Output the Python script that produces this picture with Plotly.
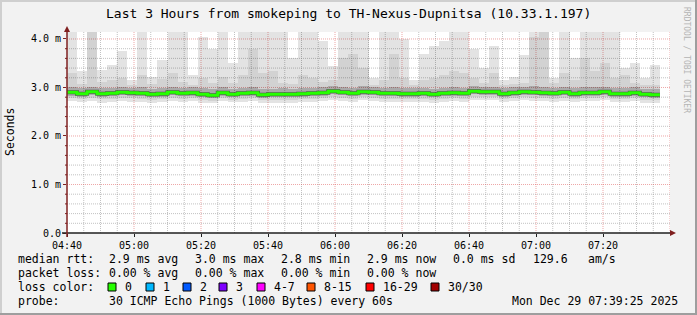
import plotly.graph_objects as go
from datetime import datetime, timedelta

# ---------------- data ----------------
title_text = "Last 3 Hours from smokeping to TH-Nexus-Dupnitsa (10.33.1.197)"
graph_start = datetime(2025, 12, 29, 4, 40)
graph_end = datetime(2025, 12, 29, 7, 40)
step_minutes = 3
n_cols = 59
col_starts = [graph_start + timedelta(minutes=step_minutes * k) for k in range(n_cols)]

median = [2.90, 2.87, 2.91, 2.87, 2.88, 2.90, 2.89, 2.88, 2.86, 2.87,
          2.90, 2.88, 2.89, 2.86, 2.84, 2.89, 2.86, 2.88, 2.89, 2.85,
          2.86, 2.86, 2.86, 2.87, 2.88, 2.89, 2.92, 2.90, 2.88, 2.91,
          2.90, 2.88, 2.88, 2.87, 2.87, 2.88, 2.86, 2.88, 2.89, 2.88,
          2.92, 2.91, 2.91, 2.87, 2.89, 2.91, 2.90, 2.89, 2.88, 2.90,
          2.87, 2.89, 2.89, 2.91, 2.87, 2.87, 2.89, 2.86, 2.85]

smoke_max = [4.14, 3.35, 4.14, 3.36, 3.46, 3.75, 3.15, 4.14, 3.22, 3.57,
             4.14, 4.14, 3.25, 4.05, 3.80, 4.14, 3.50, 4.14, 4.14, 4.14,
             4.14, 4.14, 3.60, 4.14, 4.14, 3.95, 3.45, 4.14, 4.14, 4.14,
             3.20, 4.14, 4.14, 4.00, 3.15, 3.70, 3.85, 3.95, 4.14, 4.14,
             3.80, 3.40, 3.85, 3.15, 3.22, 3.68, 4.14, 4.14, 3.20, 4.14,
             3.60, 4.14, 4.14, 4.14, 4.14, 3.40, 3.50, 3.20, 3.47]

smoke_hi2 = [3.30, 3.08, 4.14, 3.12, 3.15, 3.20, 3.05, 3.25, 3.08, 3.18,
             3.30, 3.12, 3.06, 3.20, 3.10, 3.22, 3.10, 3.25, 3.80, 3.30,
             3.35, 3.10, 3.08, 3.25, 3.20, 3.12, 3.15, 3.60, 3.70, 3.40,
             3.05, 3.15, 3.70, 3.20, 3.05, 3.15, 3.20, 3.25, 3.35, 3.30,
             3.20, 3.10, 3.30, 3.05, 3.08, 3.10, 4.05, 4.14, 3.10, 3.30,
             3.15, 3.60, 3.35, 3.50, 3.20, 3.25, 3.10, 3.05, 3.05]

smoke_hi1 = [3.00, 2.98, 3.02, 2.98, 2.99, 3.01, 2.99, 3.00, 2.97, 2.99,
             3.02, 2.99, 3.00, 2.98, 2.96, 3.00, 2.97, 2.99, 3.01, 2.97,
             2.97, 2.98, 2.97, 2.98, 2.99, 3.00, 3.03, 3.01, 2.99, 3.03,
             3.01, 2.99, 3.00, 2.98, 2.98, 2.99, 2.97, 2.99, 3.00, 2.99,
             3.03, 3.02, 3.02, 2.98, 3.00, 3.02, 3.03, 3.00, 2.99, 3.01,
             2.98, 3.00, 3.01, 3.02, 2.98, 2.98, 3.00, 2.97, 2.96]

smoke_lo1 = [2.83, 2.81, 2.84, 2.81, 2.82, 2.84, 2.83, 2.82, 2.80, 2.81,
             2.84, 2.82, 2.83, 2.80, 2.78, 2.83, 2.80, 2.82, 2.83, 2.79,
             2.80, 2.80, 2.80, 2.81, 2.82, 2.83, 2.86, 2.84, 2.82, 2.85,
             2.84, 2.82, 2.82, 2.81, 2.81, 2.82, 2.80, 2.82, 2.83, 2.82,
             2.86, 2.85, 2.85, 2.81, 2.83, 2.85, 2.84, 2.83, 2.82, 2.84,
             2.81, 2.83, 2.83, 2.85, 2.81, 2.81, 2.83, 2.80, 2.79]

smoke_lo2 = [2.78, 2.76, 2.79, 2.76, 2.77, 2.79, 2.78, 2.77, 2.75, 2.76,
             2.79, 2.77, 2.78, 2.75, 2.73, 2.78, 2.75, 2.77, 2.78, 2.74,
             2.75, 2.75, 2.75, 2.76, 2.77, 2.78, 2.81, 2.79, 2.77, 2.80,
             2.79, 2.77, 2.77, 2.76, 2.76, 2.77, 2.75, 2.77, 2.78, 2.77,
             2.81, 2.80, 2.80, 2.76, 2.78, 2.80, 2.79, 2.78, 2.77, 2.79,
             2.76, 2.78, 2.78, 2.80, 2.76, 2.76, 2.78, 2.75, 2.74]

smoke_min = [2.72, 2.70, 2.73, 2.69, 2.71, 2.72, 2.71, 2.70, 2.69, 2.70,
             2.73, 2.71, 2.72, 2.69, 2.67, 2.72, 2.70, 2.71, 2.72, 2.68,
             2.69, 2.68, 2.69, 2.70, 2.71, 2.72, 2.75, 2.73, 2.71, 2.74,
             2.73, 2.71, 2.71, 2.70, 2.70, 2.71, 2.69, 2.71, 2.72, 2.71,
             2.75, 2.74, 2.74, 2.70, 2.72, 2.74, 2.73, 2.72, 2.71, 2.73,
             2.70, 2.72, 2.72, 2.74, 2.70, 2.70, 2.72, 2.69, 2.68]

x_tick_labels = ["04:40", "05:00", "05:20", "05:40", "06:00", "06:20", "06:40", "07:00", "07:20"]
y_tick_vals = [0, 1, 2, 3, 4]
y_tick_labels = ["0.0", "1.0 m", "2.0 m", "3.0 m", "4.0 m"]
y_max = 4.144

rtt_label = "median rtt:"
rtt_stats = ["2.9 ms avg", "3.0 ms max", "2.8 ms min", "2.9 ms now", "0.0 ms sd", "129.6", "am/s"]
loss_label = "packet loss:"
loss_stats = ["0.00 % avg", "0.00 % max", "0.00 % min", "0.00 % now"]
color_label = "loss color:"
loss_color_names = ["0", "1", "2", "3", "4-7", "8-15", "16-29", "30/30"]
loss_colors = ["#26ff00", "#00b8ff", "#0059ff", "#7e00ff", "#ff00ff", "#ff5500", "#ff0000", "#a10000"]
probe_label = "probe:"
probe_text = "30 ICMP Echo Pings (1000 Bytes) every 60s"
stamp_text = "Mon Dec 29 07:39:25 2025"
watermark = "RRDTOOL / TOBI OETIKER"
y_title = "Seconds"

# ---------------- layout geometry ----------------
W, H = 697, 315
L, R, T, B = 67, 670, 32, 233
FONT = "DejaVu Sans Mono"


def px(x):
    return (x - L) / (R - L)


def py(y):
    return (B - y) / (B - T)


col_width_ms = step_minutes * 60 * 1000
col_centers = [c + timedelta(minutes=step_minutes / 2) for c in col_starts]

fig = go.Figure()


def band(lower, upper, color):
    fig.add_trace(go.Bar(
        x=col_centers, base=lower, y=[u - l for u, l in zip(upper, lower)],
        width=col_width_ms, marker=dict(color=color, line=dict(width=0)),
        hoverinfo="skip", showlegend=False))


band(smoke_min, smoke_max, "rgba(0,0,0,0.11)")
band(smoke_lo2, smoke_hi2, "rgba(0,0,0,0.075)")
band(smoke_lo1, smoke_hi1, "rgba(0,0,0,0.19)")

line_x = col_starts + [col_starts[-1] + timedelta(minutes=step_minutes)]
line_y = median + [median[-1]]
fig.add_trace(go.Scatter(x=line_x, y=line_y, mode="lines",
                         line=dict(shape="hv", color="rgba(40,40,40,0.7)", width=4),
                         hoverinfo="skip", showlegend=False))
fig.add_trace(go.Scatter(x=line_x, y=line_y, mode="lines",
                         line=dict(shape="hv", color="#26ff00", width=3),
                         hoverinfo="skip", showlegend=False))

major_grid = "rgba(222,79,79,0.5)"
minor_grid = "rgba(143,143,143,0.55)"

fig.update_xaxes(
    type="date", range=[graph_start, graph_end],
    tickmode="array",
    tickvals=[graph_start + timedelta(minutes=20 * i) for i in range(len(x_tick_labels))],
    ticktext=x_tick_labels,
    showgrid=False, ticks="outside", ticklen=3, tickcolor="#1f1f1f",
    tickfont=dict(family=FONT, size=10, color="#000"),
    showline=False, zeroline=False, fixedrange=True,
)
fig.update_yaxes(
    range=[0, y_max], tickmode="array", tickvals=y_tick_vals, ticktext=y_tick_labels,
    showgrid=False, ticks="outside", ticklen=3, tickcolor="#7f2020",
    tickfont=dict(family=FONT, size=10, color="#000"),
    showline=False, zeroline=False, fixedrange=True,
)

shapes = []
# grid lines (5-minute and 0.2 ms minor, 20-minute and 1 ms major)
for i in range(1, 37):
    t = graph_start + timedelta(minutes=5 * i)
    major = (i % 4 == 0)
    shapes.append(dict(type="line", xref="x", yref="paper", x0=t, x1=t, y0=0, y1=1,
                       line=dict(color=major_grid if major else minor_grid, width=1, dash="1px,1px"),
                       layer="below"))
for j in range(1, 21):
    v = round(0.2 * j, 1)
    major = (j % 5 == 0)
    shapes.append(dict(type="line", xref="paper", yref="y", x0=0, x1=1, y0=v, y1=v,
                       line=dict(color=major_grid if major else minor_grid, width=1, dash="1px,1px"),
                       layer="below"))
    if not major:
        shapes.append(dict(type="line", xref="paper", yref="y", x0=px(L - 2), x1=px(L), y0=v, y1=v,
                           line=dict(color="#7f2020", width=1), layer="above"))

# bevel frame
shapes.append(dict(type="rect", xref="paper", yref="paper", x0=px(0), x1=px(W), y0=py(0), y1=py(2),
                   fillcolor="#cfcfcf", line=dict(width=0), layer="above"))
shapes.append(dict(type="rect", xref="paper", yref="paper", x0=px(0), x1=px(2), y0=py(0), y1=py(H),
                   fillcolor="#cfcfcf", line=dict(width=0), layer="above"))
shapes.append(dict(type="rect", xref="paper", yref="paper", x0=px(W - 2), x1=px(W), y0=py(0), y1=py(H),
                   fillcolor="#9e9e9e", line=dict(width=0), layer="above"))
shapes.append(dict(type="rect", xref="paper", yref="paper", x0=px(0), x1=px(W), y0=py(H - 2), y1=py(H),
                   fillcolor="#9e9e9e", line=dict(width=0), layer="above"))
# axes
shapes.append(dict(type="line", xref="paper", yref="paper", x0=px(L - 5), x1=px(R + 1), y0=py(B), y1=py(B),
                   line=dict(color="#1f1f1f", width=1.5), layer="above"))
shapes.append(dict(type="line", xref="paper", yref="paper", x0=px(L), x1=px(L), y0=py(B + 4), y1=py(T - 1),
                   line=dict(color="#7f2020", width=1.5), layer="above"))
# arrows
shapes.append(dict(type="path", xref="paper", yref="paper",
                   path=f"M {px(R)} {py(B - 3)} L {px(R + 6)} {py(B)} L {px(R)} {py(B + 3)} Z",
                   fillcolor="#7f1f1f", line=dict(width=0), layer="above"))
shapes.append(dict(type="path", xref="paper", yref="paper",
                   path=f"M {px(L - 3)} {py(T)} L {px(L)} {py(T - 6)} L {px(L + 3)} {py(T)} Z",
                   fillcolor="#7f1f1f", line=dict(width=0), layer="above"))

annotations = []


def text(s, x, y, size=11.5, color="#000", xanchor="left", angle=0):
    annotations.append(dict(text=s, x=px(x), y=py(y), xref="paper", yref="paper",
                            xanchor=xanchor, yanchor="middle", showarrow=False,
                            textangle=angle, font=dict(family=FONT, size=size, color=color)))


text(title_text, 348, 13, size=13, xanchor="center")
text(y_title, 10, 132, size=11.5, xanchor="center", angle=-90)
text(watermark, 687, 60, size=8, color="#b4b4b4", xanchor="center", angle=90)

row_y = [259, 273, 287, 301]
label_x = 16
stat_x = [107, 193, 279, 365, 451, 531, 586]
text(rtt_label, label_x, row_y[0])
for s, x in zip(rtt_stats, stat_x):
    text(s, x, row_y[0])
text(loss_label, label_x, row_y[1])
for s, x in zip(loss_stats, stat_x):
    text(s, x, row_y[1])
text(color_label, label_x, row_y[2])
box_x = [108, 146, 183, 219, 257, 307, 366, 431]
for name, col, bx in zip(loss_color_names, loss_colors, box_x):
    shapes.append(dict(type="rect", xref="paper", yref="paper",
                       x0=px(bx), x1=px(bx + 8), y0=py(row_y[2] + 4), y1=py(row_y[2] - 4),
                       fillcolor=col, line=dict(color="#000", width=1), layer="above"))
    text(name, bx + 15, row_y[2])
text(probe_label, label_x, row_y[3])
text(probe_text, 107, row_y[3])
text(stamp_text, 680, row_y[3], xanchor="right")

fig.update_layout(
    width=W, height=H,
    margin=dict(l=L, r=W - R, t=T, b=H - B, pad=0),
    paper_bgcolor="#f2f2f2", plot_bgcolor="#ffffff",
    barmode="overlay", bargap=0, showlegend=False,
    shapes=shapes, annotations=annotations,
)

fig.write_html("out.html", config={"displayModeBar": False})
